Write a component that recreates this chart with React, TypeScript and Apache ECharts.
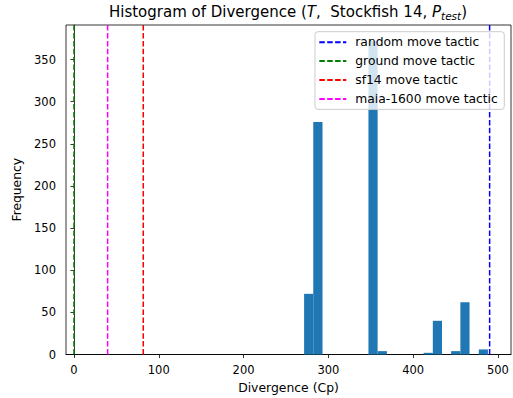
import React, { useEffect, useRef } from "react";
import * as echarts from "echarts";

// ---- data ----
const binEdges = [
  271.4, 282.2, 293.1, 303.9, 314.8, 325.6, 336.4, 347.3, 358.1, 369.0, 379.8,
  390.6, 401.5, 412.3, 423.2, 434.0, 444.8, 455.7, 466.5, 477.4, 488.2,
];
const binCounts = [72, 276, 0, 0, 0, 0, 0, 372, 4, 0, 0, 0, 0, 2, 40, 0, 4, 62, 0, 6];

const refNames = ["random move tactic", "ground move tactic", "sf14 move tactic", "maia-1600 move tactic"];
const refValues = [490.2, 0, 81.7, 39.7];

const xTicks = [0, 100, 200, 300, 400, 500];
const yTicks = [0, 50, 100, 150, 200, 250, 300, 350];

const xRange = [-9.4, 515.4];
const yRange = [0, 391];

// ---- styles ----
const refColors = ["#0000ff", "#008000", "#ff0000", "#ff00ff"];
const barColor = "#1f77b4";
const FONT = "DejaVu Sans";

export default function App() {
  const ref = useRef<HTMLDivElement>(null);

  useEffect(() => {
    if (!ref.current) return;
    const chart = echarts.init(ref.current, null, { renderer: "svg" });

    const histData = binCounts.map((c, i) => [binEdges[i], binEdges[i + 1], c]);

    const lineSeries = refNames.map((name, i) => ({
      type: "line",
      name,
      data: [
        [refValues[i], yRange[0]],
        [refValues[i], yRange[1]],
      ],
      symbol: "none",
      color: refColors[i],
      lineStyle: { color: refColors[i], width: 1.5, type: [5.5, 2.4] },
      z: 3,
    }));

    const base = { fontFamily: FONT, color: "#000", fontWeight: "normal" };

    const option: any = {
      animation: false,
      backgroundColor: "#ffffff",
      textStyle: { fontFamily: FONT },
      title: {
        text: "{n|Histogram of Divergence (}{i|T}{n|,  Stockfish 14, }{i|P}{s|test}{n|)}",
        left: 288,
        top: 3,
        padding: 0,
        textAlign: "center",
        textStyle: {
          fontWeight: "normal",
          rich: {
            n: { ...base, fontSize: 15 },
            i: { ...base, fontSize: 15, fontStyle: "italic" },
            s: { ...base, fontSize: 10.5, fontStyle: "italic", padding: [7, 0, 0, 0] },
          },
        },
      },
      legend: {
        orient: "vertical",
        left: 315,
        top: 31.7,
        padding: [3.5, 6.5, 3.5, 3.3],
        itemGap: 4.9,
        itemWidth: 27,
        itemHeight: 14,
        backgroundColor: "rgba(255,255,255,0.8)",
        borderColor: "#cccccc",
        borderWidth: 1,
        borderRadius: 3,
        data: refNames,
        itemStyle: { opacity: 0 },
        textStyle: {
          fontFamily: FONT,
          fontSize: 12.3,
          color: "#000",
          lineHeight: 14,
          padding: [0, 0, 0, 4],
        },
        z: 10,
      },
      grid: {
        left: 66,
        top: 25,
        width: 445,
        height: 330.5,
        show: true,
        borderColor: "#000",
        borderWidth: 0.8,
        backgroundColor: "transparent",
      },
      xAxis: {
        type: "value",
        min: xRange[0],
        max: xRange[1],
        name: "Divergence (Cp)",
        nameLocation: "middle",
        nameGap: 26.5,
        nameTextStyle: { fontFamily: FONT, fontSize: 12.4, color: "#000" },
        axisLine: { show: true, lineStyle: { color: "#000", width: 0.8 } },
        axisTick: {
          show: true,
          inside: false,
          length: 3.5,
          lineStyle: { color: "#000", width: 0.8 },
          customValues: xTicks,
        },
        axisLabel: {
          fontFamily: FONT,
          fontSize: 11.5,
          color: "#000",
          margin: 9.5,
          customValues: xTicks,
        },
        splitLine: { show: false },
      },
      yAxis: {
        type: "value",
        min: yRange[0],
        max: yRange[1],
        name: "Frequency",
        nameLocation: "middle",
        nameGap: 35,
        nameRotate: 90,
        nameTextStyle: { fontFamily: FONT, fontSize: 12.3, color: "#000" },
        axisLine: { show: true, lineStyle: { color: "#000", width: 0.8 } },
        axisTick: {
          show: true,
          inside: false,
          length: 3.5,
          lineStyle: { color: "#000", width: 0.8 },
          customValues: yTicks,
        },
        axisLabel: {
          fontFamily: FONT,
          fontSize: 11.5,
          color: "#000",
          margin: 10,
          customValues: yTicks,
        },
        splitLine: { show: false },
      },
      series: [
        {
          type: "custom",
          name: "hist",
          data: histData,
          encode: { x: [0, 1], y: 2 },
          z: 2,
          renderItem: (params: any, api: any) => {
            const p0 = api.coord([api.value(0), 0]);
            const p1 = api.coord([api.value(1), api.value(2)]);
            return {
              type: "rect",
              shape: { x: p0[0], y: p1[1], width: p1[0] - p0[0], height: p0[1] - p1[1] },
              style: { fill: barColor },
            };
          },
        },
        ...lineSeries,
      ],
    };

    chart.setOption(option);
    return () => chart.dispose();
  }, []);

  return (
    <div
      ref={ref}
      style={{ position: "fixed", left: 0, top: 0, width: 513, height: 398 }}
    />
  );
}
